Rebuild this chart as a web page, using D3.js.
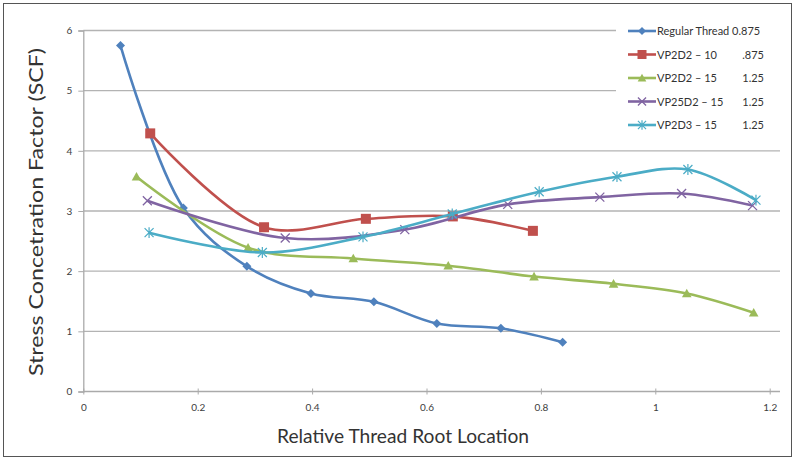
<!DOCTYPE html>
<html>
<head>
<meta charset="utf-8">
<script src="https://cdn.jsdelivr.net/npm/d3@7"></script>
<style>
  body { margin: 0; background: #fff; }
  #chart { width: 795px; height: 460px; }
  text { font-family: Lato, "Open Sans", sans-serif; }
</style>
</head>
<body>
<div id="chart"></div>
<script>
// values
var seriesNames = ["Regular Thread", "VP2D2 - 10", "VP2D2 - 15", "VP25D2 - 15", "VP2D3 - 15"];
var seriesSizes = ["0.875", ".875", "1.25", "1.25", "1.25"];

var regularX = [0.065, 0.175, 0.286, 0.398, 0.508, 0.618, 0.730, 0.838];
var regularY = [5.75, 3.05, 2.08, 1.63, 1.49, 1.13, 1.05, 0.82];

var vp2d2_10X = [0.117, 0.316, 0.494, 0.646, 0.786];
var vp2d2_10Y = [4.29, 2.73, 2.87, 2.91, 2.67];

var vp2d2_15X = [0.093, 0.288, 0.472, 0.638, 0.788, 0.927, 1.055, 1.172];
var vp2d2_15Y = [3.57, 2.39, 2.21, 2.09, 1.91, 1.79, 1.63, 1.31];

var vp25d2_15X = [0.112, 0.353, 0.562, 0.742, 0.903, 1.046, 1.170];
var vp25d2_15Y = [3.17, 2.55, 2.69, 3.11, 3.23, 3.29, 3.09];

var vp2d3_15X = [0.115, 0.313, 0.489, 0.645, 0.797, 0.933, 1.057, 1.176];
var vp2d3_15Y = [2.64, 2.31, 2.57, 2.95, 3.32, 3.57, 3.69, 3.18];

var xTicks = [0, 0.2, 0.4, 0.6, 0.8, 1, 1.2];
var yTicks = [0, 1, 2, 3, 4, 5, 6];

var colors = ["#4f81bd", "#c0504d", "#9bbb59", "#8064a2", "#4bacc6"];
var markers = ["diamond", "square", "triangle", "cross", "star"];

var series = [
    {x: regularX, y: regularY},
    {x: vp2d2_10X, y: vp2d2_10Y},
    {x: vp2d2_15X, y: vp2d2_15Y},
    {x: vp25d2_15X, y: vp25d2_15Y},
    {x: vp2d3_15X, y: vp2d3_15Y}
];

var width = 795, height = 460;

var svg = d3.select("#chart").append("svg")
    .attr("width", width)
    .attr("height", height);

// outer frame
svg.append("rect")
    .attr("x", 3.5).attr("y", 3.5)
    .attr("width", width - 7).attr("height", height - 7)
    .attr("fill", "#fff")
    .attr("stroke", "#555").attr("stroke-width", 1);

var x = d3.scaleLinear().domain([0, 1.2]).range([83.3, 769.7]);
var y = d3.scaleLinear().domain([0, 6]).range([391.5, 30.5]);
var xEnd = x(1.218);

// gridlines
svg.append("g").selectAll("line")
    .data(yTicks.filter(function(d) { return d > 0; }))
    .enter().append("line")
    .attr("x1", x(0)).attr("x2", xEnd)
    .attr("y1", function(d) { return y(d); })
    .attr("y2", function(d) { return y(d); })
    .attr("stroke", "#b3b3b3").attr("stroke-width", 1.3);

// axes
var xAxis = svg.append("g")
    .attr("transform", "translate(0," + y(0) + ")")
    .call(d3.axisBottom(x).tickValues(xTicks).tickSize(4).tickPadding(8)
        .tickFormat(d3.format("~g")));
xAxis.select(".domain").attr("d", "M" + x(0) + ",0H" + xEnd).attr("stroke", "#aaa").attr("stroke-width", 1.3);
xAxis.selectAll(".tick line").attr("stroke", "#aaa").attr("y1", -3).attr("y2", 3);
xAxis.selectAll(".tick text").attr("fill", "#404040").style("font-size", "10px");

var yAxis = svg.append("g")
    .attr("transform", "translate(" + x(0) + ",0)")
    .call(d3.axisLeft(y).tickValues(yTicks).tickSize(5).tickPadding(6)
        .tickFormat(d3.format("d")));
yAxis.select(".domain").attr("stroke", "#aaa").attr("stroke-width", 1.3);
yAxis.selectAll(".tick line").attr("stroke", "#aaa");
yAxis.selectAll(".tick text").attr("fill", "#404040").style("font-size", "10px");

// axis titles
svg.append("text")
    .attr("x", 403).attr("y", 443)
    .attr("text-anchor", "middle")
    .attr("fill", "#333")
    .attr("textLength", 252)
    .attr("lengthAdjust", "spacingAndGlyphs")
    .style("font-size", "19px")
    .text("Relative Thread Root Location");

svg.append("text")
    .attr("transform", "translate(43,212) rotate(-90)")
    .attr("text-anchor", "middle")
    .attr("fill", "#333")
    .attr("textLength", 328)
    .attr("lengthAdjust", "spacingAndGlyphs")
    .style("font-size", "20px")
    .text("Stress Concetration Factor (SCF)");

var line = d3.line()
    .x(function(d) { return x(d[0]); })
    .y(function(d) { return y(d[1]); })
    .curve(d3.curveCatmullRom.alpha(0.5));

function drawMarker(g, type, color, s) {
    if (type == "diamond") {
        g.append("path").attr("d", "M0," + (-s) + "L" + s + ",0L0," + s + "L" + (-s) + ",0Z").attr("fill", color);
    } else if (type == "square") {
        g.append("rect").attr("x", -s).attr("y", -s).attr("width", 2 * s).attr("height", 2 * s).attr("fill", color);
    } else if (type == "triangle") {
        g.append("path").attr("d", "M0," + (-s) + "L" + s + "," + (s * 0.8) + "L" + (-s) + "," + (s * 0.8) + "Z").attr("fill", color);
    } else if (type == "cross") {
        g.append("path").attr("d", "M" + (-s) + "," + (-s) + "L" + s + "," + s + "M" + (-s) + "," + s + "L" + s + "," + (-s))
            .attr("stroke", color).attr("stroke-width", 1.3).attr("fill", "none");
    } else {
        g.append("path").attr("d", "M" + (-s) + "," + (-s) + "L" + s + "," + s + "M" + (-s) + "," + s + "L" + s + "," + (-s) + "M0," + (-s * 1.2) + "V" + (s * 1.2))
            .attr("stroke", color).attr("stroke-width", 1.2).attr("fill", "none");
    }
}

var markerSize = [4.5, 5, 4.8, 4.5, 4.5];

series.forEach(function(s, i) {
    var pts = s.x.map(function(v, j) { return [v, s.y[j]]; });
    svg.append("path")
        .datum(pts)
        .attr("d", line)
        .attr("fill", "none")
        .attr("stroke", colors[i])
        .attr("stroke-width", 2.6);
    pts.forEach(function(p) {
        var m = svg.append("g").attr("transform", "translate(" + x(p[0]) + "," + y(p[1]) + ")");
        drawMarker(m, markers[i], colors[i], markerSize[i]);
    });
});

// legend
var legend = svg.append("g");
legend.append("rect")
    .attr("x", 616).attr("y", 18).attr("width", 170).attr("height", 118)
    .attr("fill", "#fff");

seriesNames.forEach(function(name, i) {
    var ly = 31 + i * 23.5;
    var row = legend.append("g");
    row.append("line")
        .attr("x1", 628).attr("x2", 656)
        .attr("y1", ly).attr("y2", ly)
        .attr("stroke", colors[i]).attr("stroke-width", 2.6);
    var m = row.append("g").attr("transform", "translate(642," + ly + ")");
    drawMarker(m, markers[i], colors[i], markerSize[i] * 0.9);
    row.append("text")
        .attr("x", 657).attr("y", ly + 4)
        .attr("fill", "#333")
        .style("font-size", "11px")
        .text(i == 0 ? name + " " + seriesSizes[i] : name.replace(/ - /g, " \u2013 "));
    if (i > 0) {
        row.append("text")
            .attr("x", 764).attr("y", ly + 4)
            .attr("text-anchor", "end")
            .attr("fill", "#333")
            .style("font-size", "11px")
            .text(seriesSizes[i]);
    }
});
</script>
</body>
</html>
